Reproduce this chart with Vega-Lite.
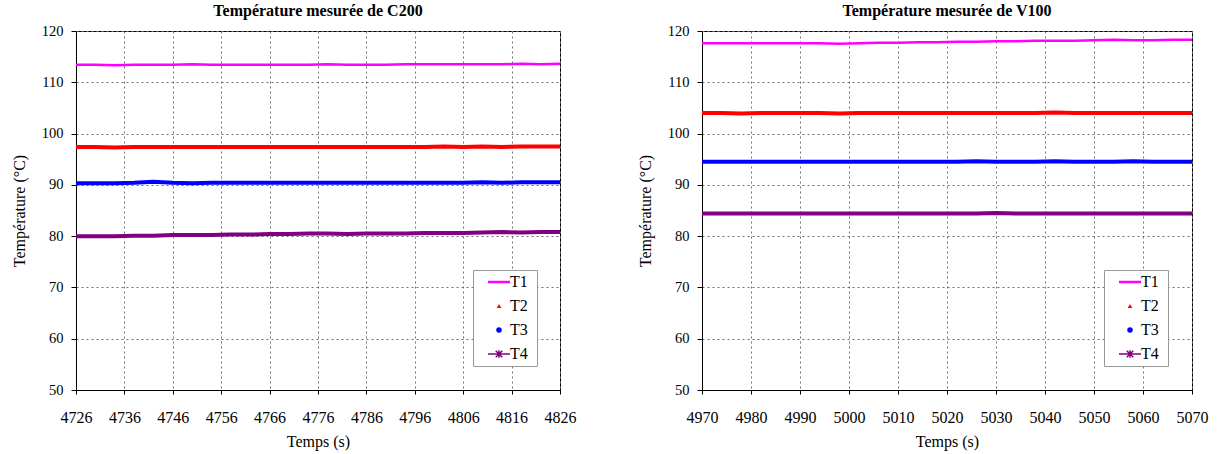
{
  "$schema": "https://vega.github.io/schema/vega-lite/v6.json",
  "background": "#ffffff",
  "padding": {"left": 10, "top": 2, "right": 5, "bottom": 5},
  "spacing": 59,
  "config": {
    "font": "Liberation Serif",
    "view": {"stroke": "#000000", "strokeWidth": 1},
    "axis": {
      "domainColor": "#000000", "tickColor": "#000000", "labelColor": "#000000", "titleColor": "#000000",
      "labelFont": "Liberation Serif", "titleFont": "Liberation Serif",
      "titleFontWeight": "normal", "labelFlush": false, "labelOverlap": false,
      "gridColor": "#707070", "gridDash": [2, 3], "gridWidth": 1
    },
    "title": {"font": "Liberation Serif", "fontSize": 16, "fontWeight": "bold", "color": "#000000", "offset": 4},
    "legend": {
      "labelFont": "Liberation Serif", "labelFontSize": 16, "labelColor": "#000000",
      "strokeColor": "#999999", "fillColor": "#ffffff", "padding": 4,
      "symbolSize": 484, "rowPadding": 8, "labelOffset": 3, "symbolOffset": 14,
      "titleOrient": "right", "titleFont": "Liberation Serif", "titleFontSize": 10, "titleColor": "rgba(0,0,0,0)", "titlePadding": 0
    }
  },
  "datasets": {
    "c200": [
      {"t":4726,"T1":113.4,"T2":97.4,"T3":90.3,"T4":80.0},
      {"t":4730,"T1":113.4,"T2":97.4,"T3":90.3,"T4":80.0},
      {"t":4734,"T1":113.3,"T2":97.3,"T3":90.3,"T4":80.0},
      {"t":4738,"T1":113.4,"T2":97.4,"T3":90.4,"T4":80.1},
      {"t":4742,"T1":113.4,"T2":97.4,"T3":90.6,"T4":80.1},
      {"t":4746,"T1":113.4,"T2":97.4,"T3":90.4,"T4":80.2},
      {"t":4750,"T1":113.5,"T2":97.4,"T3":90.3,"T4":80.2},
      {"t":4754,"T1":113.4,"T2":97.4,"T3":90.4,"T4":80.2},
      {"t":4758,"T1":113.4,"T2":97.4,"T3":90.4,"T4":80.3},
      {"t":4762,"T1":113.4,"T2":97.4,"T3":90.4,"T4":80.3},
      {"t":4766,"T1":113.4,"T2":97.4,"T3":90.4,"T4":80.4},
      {"t":4770,"T1":113.4,"T2":97.4,"T3":90.4,"T4":80.4},
      {"t":4774,"T1":113.4,"T2":97.4,"T3":90.4,"T4":80.5},
      {"t":4778,"T1":113.5,"T2":97.4,"T3":90.4,"T4":80.5},
      {"t":4782,"T1":113.4,"T2":97.4,"T3":90.4,"T4":80.4},
      {"t":4786,"T1":113.4,"T2":97.4,"T3":90.4,"T4":80.5},
      {"t":4790,"T1":113.4,"T2":97.4,"T3":90.4,"T4":80.5},
      {"t":4794,"T1":113.5,"T2":97.4,"T3":90.4,"T4":80.5},
      {"t":4798,"T1":113.5,"T2":97.4,"T3":90.4,"T4":80.6},
      {"t":4802,"T1":113.5,"T2":97.5,"T3":90.4,"T4":80.6},
      {"t":4806,"T1":113.5,"T2":97.4,"T3":90.4,"T4":80.6},
      {"t":4810,"T1":113.5,"T2":97.5,"T3":90.5,"T4":80.7},
      {"t":4814,"T1":113.5,"T2":97.4,"T3":90.4,"T4":80.8},
      {"t":4818,"T1":113.6,"T2":97.5,"T3":90.5,"T4":80.7},
      {"t":4822,"T1":113.5,"T2":97.5,"T3":90.5,"T4":80.8},
      {"t":4826,"T1":113.6,"T2":97.5,"T3":90.5,"T4":80.8}
    ],
    "v100": [
      {"t":4970,"T1":117.6,"T2":104.0,"T3":94.5,"T4":84.4},
      {"t":4974,"T1":117.6,"T2":104.0,"T3":94.5,"T4":84.4},
      {"t":4978,"T1":117.6,"T2":103.9,"T3":94.5,"T4":84.4},
      {"t":4982,"T1":117.6,"T2":104.0,"T3":94.5,"T4":84.4},
      {"t":4986,"T1":117.6,"T2":104.0,"T3":94.5,"T4":84.4},
      {"t":4990,"T1":117.6,"T2":104.0,"T3":94.5,"T4":84.4},
      {"t":4994,"T1":117.6,"T2":104.0,"T3":94.5,"T4":84.4},
      {"t":4998,"T1":117.5,"T2":103.9,"T3":94.5,"T4":84.4},
      {"t":5002,"T1":117.6,"T2":104.0,"T3":94.5,"T4":84.4},
      {"t":5006,"T1":117.7,"T2":104.0,"T3":94.5,"T4":84.4},
      {"t":5010,"T1":117.7,"T2":104.0,"T3":94.5,"T4":84.4},
      {"t":5014,"T1":117.8,"T2":104.0,"T3":94.5,"T4":84.4},
      {"t":5018,"T1":117.8,"T2":104.0,"T3":94.5,"T4":84.4},
      {"t":5022,"T1":117.9,"T2":104.0,"T3":94.5,"T4":84.4},
      {"t":5026,"T1":117.9,"T2":104.0,"T3":94.6,"T4":84.4},
      {"t":5030,"T1":118.0,"T2":104.0,"T3":94.5,"T4":84.5},
      {"t":5034,"T1":118.0,"T2":104.0,"T3":94.5,"T4":84.4},
      {"t":5038,"T1":118.1,"T2":104.0,"T3":94.5,"T4":84.4},
      {"t":5042,"T1":118.1,"T2":104.1,"T3":94.6,"T4":84.4},
      {"t":5046,"T1":118.1,"T2":104.0,"T3":94.5,"T4":84.4},
      {"t":5050,"T1":118.2,"T2":104.0,"T3":94.5,"T4":84.4},
      {"t":5054,"T1":118.3,"T2":104.0,"T3":94.5,"T4":84.4},
      {"t":5058,"T1":118.2,"T2":104.0,"T3":94.6,"T4":84.4},
      {"t":5062,"T1":118.2,"T2":104.0,"T3":94.5,"T4":84.4},
      {"t":5066,"T1":118.3,"T2":104.0,"T3":94.5,"T4":84.4},
      {"t":5070,"T1":118.3,"T2":104.0,"T3":94.5,"T4":84.4}
    ]
  },
  "hconcat": [
    {
      "title": "Température mesurée de C200",
      "width": 484, "height": 359,
      "data": {"name": "c200"},
      "transform": [{"fold": ["T1", "T2", "T3", "T4"], "as": ["serie", "val"]}],
      "encoding": {
        "x": {"field": "t", "type": "quantitative",
          "scale": {"domain": [4726, 4826], "nice": false, "zero": false},
          "axis": {"values": [4726,4736,4746,4756,4766,4776,4786,4796,4806,4816,4826], "format": "d", "title": "Temps (s)",
            "labelFont": "Liberation Serif", "labelFontSize": 16, "titleFont": "Liberation Serif", "titleFontSize": 16,
            "tickSize": 4, "labelPadding": 15, "titlePadding": 8}},
        "y": {"field": "val", "type": "quantitative",
          "scale": {"domain": [50, 120], "nice": false, "zero": false},
          "axis": {"values": [50,60,70,80,90,100,110,120], "title": "Température (°C)",
            "labelFont": "Liberation Serif", "labelFontSize": 14.5, "titleFont": "Liberation Serif", "titleFontSize": 16,
            "tickSize": 5, "labelPadding": 8, "titlePadding": 14}},
        "color": {"field": "serie", "type": "nominal",
          "scale": {"domain": ["T1","T2","T3","T4"], "range": ["#ff00ff","#ff0000","#0000ff","#800080"]},
          "legend": {"title": "x", "orient": "none", "legendX": 397, "legendY": 239,
            "labelFont": "Liberation Serif", "labelFontSize": 16,
            "encode": {"symbols": {"update": {
              "shape": {"signal": "datum.value == 'T1' ? 'stroke' : datum.value == 'T2' ? 'triangle-up' : datum.value == 'T3' ? 'circle' : 'M-1,0H1M-0.3,-0.3L0.3,0.3M-0.3,0.3L0.3,-0.3M0,-0.35V0.35'"},
              "size": {"signal": "datum.value == 'T2' ? 22 : datum.value == 'T3' ? 30 : 484"},
              "fill": {"signal": "datum.value == 'T2' ? '#ff0000' : datum.value == 'T3' ? '#0000ff' : 'transparent'"},
              "strokeWidth": {"signal": "datum.value == 'T1' ? 2.5 : datum.value == 'T4' ? 1.5 : 0"}
            }}}}}
      },
      "layer": [
        {"transform": [{"filter": "datum.serie == 'T1'"}], "mark": {"type": "line", "strokeWidth": 2.5}},
        {"transform": [{"filter": "datum.serie != 'T1'"}], "mark": {"type": "line", "strokeWidth": 4}}
      ]
    },
    {
      "title": "Température mesurée de V100",
      "width": 490, "height": 359,
      "data": {"name": "v100"},
      "transform": [{"fold": ["T1", "T2", "T3", "T4"], "as": ["serie", "val"]}],
      "encoding": {
        "x": {"field": "t", "type": "quantitative",
          "scale": {"domain": [4970, 5070], "nice": false, "zero": false},
          "axis": {"values": [4970,4980,4990,5000,5010,5020,5030,5040,5050,5060,5070], "format": "d", "title": "Temps (s)",
            "labelFont": "Liberation Serif", "labelFontSize": 16, "titleFont": "Liberation Serif", "titleFontSize": 16,
            "tickSize": 4, "labelPadding": 15, "titlePadding": 8}},
        "y": {"field": "val", "type": "quantitative",
          "scale": {"domain": [50, 120], "nice": false, "zero": false},
          "axis": {"values": [50,60,70,80,90,100,110,120], "title": "Température (°C)",
            "labelFont": "Liberation Serif", "labelFontSize": 14.5, "titleFont": "Liberation Serif", "titleFontSize": 16,
            "tickSize": 5, "labelPadding": 8, "titlePadding": 14}},
        "color": {"field": "serie", "type": "nominal",
          "scale": {"domain": ["T1","T2","T3","T4"], "range": ["#ff00ff","#ff0000","#0000ff","#800080"]},
          "legend": {"title": "x", "orient": "none", "legendX": 402, "legendY": 239,
            "labelFont": "Liberation Serif", "labelFontSize": 16,
            "encode": {"symbols": {"update": {
              "shape": {"signal": "datum.value == 'T1' ? 'stroke' : datum.value == 'T2' ? 'triangle-up' : datum.value == 'T3' ? 'circle' : 'M-1,0H1M-0.3,-0.3L0.3,0.3M-0.3,0.3L0.3,-0.3M0,-0.35V0.35'"},
              "size": {"signal": "datum.value == 'T2' ? 22 : datum.value == 'T3' ? 30 : 484"},
              "fill": {"signal": "datum.value == 'T2' ? '#ff0000' : datum.value == 'T3' ? '#0000ff' : 'transparent'"},
              "strokeWidth": {"signal": "datum.value == 'T1' ? 2.5 : datum.value == 'T4' ? 1.5 : 0"}
            }}}}}
      },
      "layer": [
        {"transform": [{"filter": "datum.serie == 'T1'"}], "mark": {"type": "line", "strokeWidth": 2.5}},
        {"transform": [{"filter": "datum.serie != 'T1'"}], "mark": {"type": "line", "strokeWidth": 4}}
      ]
    }
  ],
  "resolve": {"scale": {"x": "independent", "color": "independent"}, "legend": {"color": "independent"}}
}
